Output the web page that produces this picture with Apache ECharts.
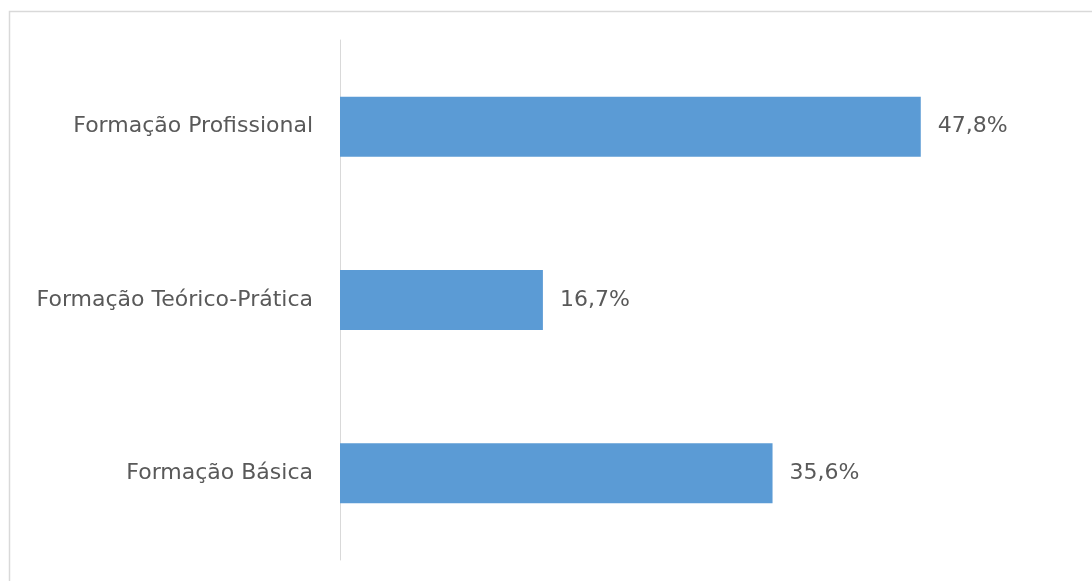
<!DOCTYPE html>
<html>
<head>
<meta charset="utf-8">
<script src="https://cdn.jsdelivr.net/npm/echarts@6/dist/echarts.min.js"></script>
<style>
  html, body { margin: 0; padding: 0; background: #fff; }
  #chart { width: 1092px; height: 581px; }
</style>
</head>
<body>
<div id="chart"></div>
<script>
// dados (de baixo para cima, como no eixo de categorias)
const categories = ['Formação Básica', 'Formação Teórico-Prática', 'Formação Profissional']
const values = [35.6, 16.7, 47.8]

const chart = echarts.init(document.getElementById('chart'))

const fmt = v => v.toFixed(1).replace('.', ',') + '%'

chart.setOption({
  animation: false,
  graphic: [
    {
      type: 'rect',
      shape: { x: 9.5, y: 11.5, width: 1100, height: 600 },
      style: { fill: 'none', stroke: '#d9d9d9', lineWidth: 1.5 },
      silent: true
    }
  ],
  grid: {
    left: 340,
    right: 23,
    top: 40,
    bottom: 21
  },
  xAxis: {
    type: 'value',
    min: 0,
    max: 60,
    show: false
  },
  yAxis: {
    type: 'category',
    data: categories,
    axisLine: { show: true, lineStyle: { color: '#d9d9d9', width: 1 } },
    axisTick: { show: false },
    axisLabel: {
      margin: 27,
      color: '#595959',
      fontSize: 22,
      fontFamily: 'DejaVu Sans'
    }
  },
  series: [
    {
      type: 'bar',
      data: values,
      barWidth: 60,
      itemStyle: { color: '#5b9bd5' },
      label: {
        show: true,
        position: 'right',
        distance: 17,
        color: '#595959',
        fontSize: 22,
        fontFamily: 'DejaVu Sans',
        formatter: p => fmt(p.value)
      }
    }
  ]
})
</script>
</body>
</html>
